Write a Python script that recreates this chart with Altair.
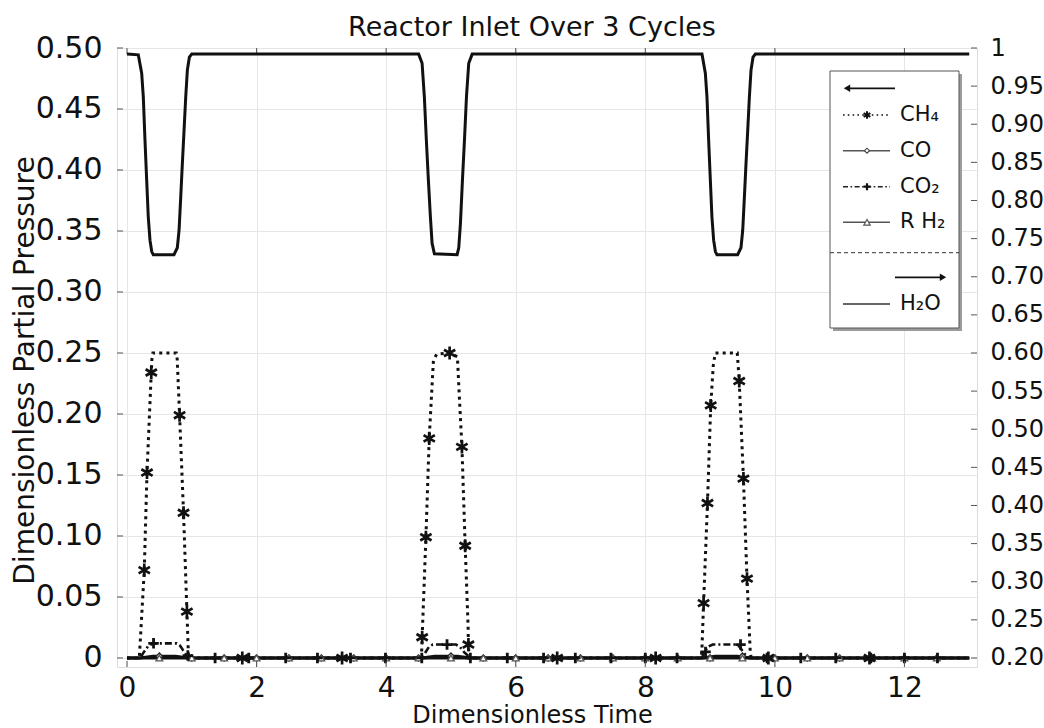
import altair as alt
import pandas as pd

# ---------------- data ----------------
# H2O (right axis)
h2o_t = [0.0, 0.175, 0.227, 0.252, 0.278, 0.304, 0.329, 0.355, 0.382, 0.406, 0.726, 0.777, 0.804, 0.830, 0.855,
         0.881, 0.907, 0.932, 0.963, 1.0,
         4.502, 4.555, 4.590, 4.621, 4.652, 4.683, 4.709, 4.745, 5.096, 5.121, 5.147, 5.178, 5.209, 5.240, 5.275, 5.328,
         8.875, 8.927, 8.952, 8.978, 9.004, 9.029, 9.055, 9.082, 9.106, 9.426, 9.477, 9.504, 9.530, 9.555,
         9.581, 9.607, 9.632, 9.663, 9.70, 13.0]
h2o_v = [0.992, 0.991, 0.967, 0.936, 0.879, 0.827, 0.778, 0.748, 0.733, 0.729, 0.729, 0.738, 0.761, 0.805, 0.849,
         0.892, 0.936, 0.971, 0.988, 0.992,
         0.992, 0.980, 0.936, 0.879, 0.827, 0.779, 0.744, 0.730, 0.729, 0.738, 0.770, 0.827, 0.879, 0.936, 0.980, 0.992,
         0.992, 0.967, 0.936, 0.879, 0.827, 0.778, 0.748, 0.733, 0.729, 0.729, 0.738, 0.761, 0.805, 0.849,
         0.892, 0.936, 0.971, 0.988, 0.992, 0.992]

# CH4 (left axis)
ch4_t = [0.0, 0.19, 0.215, 0.267, 0.309, 0.375, 0.385, 0.40, 0.76, 0.775, 0.812, 0.873, 0.925, 0.935, 0.95,
         4.545, 4.556, 4.614, 4.665, 4.73, 4.78, 4.98, 5.10, 5.13, 5.17, 5.22, 5.265, 5.27, 5.28,
         8.86, 8.873, 8.90, 8.96, 9.01, 9.05, 9.08, 9.42, 9.45, 9.515, 9.57, 9.62, 9.635, 13.0]
ch4_v = [0.0, 0.0, 0.023, 0.072, 0.152, 0.234, 0.245, 0.25, 0.25, 0.245, 0.199, 0.119, 0.038, 0.023, 0.0,
         0.0, 0.017, 0.099, 0.180, 0.244, 0.249, 0.25, 0.247, 0.214, 0.173, 0.092, 0.026, 0.011, 0.0,
         0.0, 0.005, 0.045, 0.127, 0.207, 0.240, 0.25, 0.25, 0.227, 0.147, 0.065, 0.005, 0.0, 0.0]
ch4_mt = [0.267, 0.309, 0.375, 0.812, 0.873, 0.925, 1.78, 3.32, 4.556, 4.614, 4.665, 4.98, 5.17, 5.22, 5.27,
          6.64, 8.16, 8.90, 8.96, 9.01, 9.45, 9.515, 9.57, 9.90, 11.46]
ch4_mv = [0.072, 0.152, 0.234, 0.199, 0.119, 0.038, 0.0, 0.0, 0.017, 0.099, 0.180, 0.25, 0.173, 0.092, 0.011,
          0.0, 0.0, 0.045, 0.127, 0.207, 0.227, 0.147, 0.065, 0.0, 0.0]

# CO2
co2_t = [0.0, 0.205, 0.25, 0.33, 0.41, 0.77, 0.82, 0.87, 0.92, 0.95,
         4.55, 4.60, 4.66, 4.72, 5.08, 5.14, 5.20, 5.26, 5.30,
         8.87, 8.91, 8.96, 9.04, 9.40, 9.46, 9.52, 9.58, 9.62, 13.0]
co2_v = [0.0, 0.0, 0.004, 0.010, 0.012, 0.012, 0.010, 0.006, 0.002, 0.0,
         0.0, 0.004, 0.009, 0.011, 0.011, 0.009, 0.005, 0.002, 0.0,
         0.0, 0.004, 0.009, 0.011, 0.011, 0.009, 0.004, 0.001, 0.0, 0.0]
co2_mt = [0.41, 0.94, 1.36, 1.88, 2.45, 2.94, 3.45, 3.99, 4.55, 4.94, 5.30, 5.87, 6.43, 6.92, 7.47, 8.0, 8.49,
          8.93, 9.47, 9.88, 10.40, 10.94, 11.48, 12.0, 12.51]
co2_mv = [0.012, 0.002, 0.0, 0.0, 0.0, 0.0, 0.0, 0.0, 0.0, 0.011, 0.0, 0.0, 0.0, 0.0, 0.0, 0.0, 0.0,
          0.005, 0.011, 0.0, 0.0, 0.0, 0.0, 0.0, 0.0]

# CO
co_t = [0.0, 0.2, 0.4, 0.75, 0.95, 4.55, 4.75, 5.1, 5.3, 8.87, 9.08, 9.42, 9.62, 13.0]
co_v = [0.0, 0.0, 0.0015, 0.0015, 0.0, 0.0, 0.0015, 0.0015, 0.0, 0.0, 0.0015, 0.0015, 0.0, 0.0]
co_mt = [0.5, 1.0, 1.5, 2.0, 2.5, 3.0, 3.5, 4.0, 4.5, 5.0, 5.5, 6.0, 6.5, 7.0, 7.5, 8.0, 8.5, 9.0, 9.5,
         10.0, 10.5, 11.0, 11.5, 12.0, 12.5]
co_mv = [0.0015, 0.0, 0.0, 0.0, 0.0, 0.0, 0.0, 0.0, 0.0, 0.0015, 0.0, 0.0, 0.0, 0.0, 0.0, 0.0, 0.0, 0.0, 0.0015,
         0.0, 0.0, 0.0, 0.0, 0.0, 0.0]

# R H2
rh2_t = [0.0, 13.0]
rh2_v = [0.0, 0.0]
rh2_mt = co_mt
rh2_mv = [0.0] * len(co_mt)

# axis ticks
x_ticks = [0, 2, 4, 6, 8, 10, 12]
left_ticks = [0, 0.05, 0.10, 0.15, 0.20, 0.25, 0.30, 0.35, 0.40, 0.45, 0.50]
right_ticks = [0.20, 0.25, 0.30, 0.35, 0.40, 0.45, 0.50, 0.55, 0.60, 0.65, 0.70, 0.75, 0.80, 0.85, 0.90, 0.95, 1.0]

legend_labels = ["CH\u2084", "CO", "CO\u2082", "R H\u2082", "H\u2082O"]
title_text = "Reactor Inlet Over 3 Cycles"
x_title = "Dimensionless Time"
y_title = "Dimensionless Partial Pressure"

# ---------------- chart ----------------
FONT = "DejaVu Sans"
W, H = 860, 619

def df(t, v):
    return pd.DataFrame({"t": t, "v": v})

xs = alt.Scale(domain=[-0.154, 13.12], nice=False, zero=False)
xaxis = alt.Axis(values=x_ticks, title=x_title, format="d", labelFontSize=28, labelPadding=7,
                 labelColor="#111", ticks=False, domain=False, grid=True, gridColor="#e3e7ea",
                 gridWidth=1, titleFontSize=24, titleFontWeight="normal", titleColor="#111",
                 titleX=415, titleY=48, titleBaseline="middle", titleAlign="center",
                 labelFont=FONT, titleFont=FONT)
X = alt.X("t:Q", scale=xs, axis=xaxis)

ls = alt.Scale(domain=[-0.0074, 0.5], nice=False, zero=False)
laxis = alt.Axis(values=left_ticks, labelExpr="datum.value == 0 ? '0' : format(datum.value, '.2f')",
                 title=y_title, labelFontSize=30, labelPadding=15, labelColor="#111", ticks=False,
                 domain=False, grid=True, gridColor="#e3e7ea", gridWidth=1, titleFontSize=28,
                 titleFontWeight="normal", titleColor="#111", titleX=-92, titleY=322, titleAngle=-90,
                 titleAlign="center", titleBaseline="middle", labelFont=FONT, titleFont=FONT)
YL = alt.Y("v:Q", scale=ls, axis=laxis)

rs = alt.Scale(domain=[0.18816, 1.0], nice=False, zero=False)
raxis = alt.Axis(orient="right", values=right_ticks,
                 labelExpr="datum.value == 1 ? '1' : format(datum.value, '.2f')",
                 title="", labelFontSize=24, labelPadding=13, labelColor="#111", ticks=False,
                 domain=False, grid=False, labelFont=FONT)
YR = alt.Y("v:Q", scale=rs, axis=raxis)

AST = "M0,-1L0,1M-0.866,-0.5L0.866,0.5M-0.866,0.5L0.866,-0.5"
PLUS = "M-1,0L1,0M0,-1L0,1"

co_line = alt.Chart(df(co_t, co_v)).mark_line(color="#111", strokeWidth=3).encode(x=X, y=YL)
rh2_line = alt.Chart(df(rh2_t, rh2_v)).mark_line(color="#111", strokeWidth=3).encode(x=X, y=YL)
co2_line = alt.Chart(df(co2_t, co2_v)).mark_line(color="#111", strokeWidth=2.6,
                                                  strokeDash=[7, 3, 2, 3]).encode(x=X, y=YL)
ch4_line = alt.Chart(df(ch4_t, ch4_v)).mark_line(color="#111", strokeWidth=3,
                                                  strokeDash=[3, 4.2]).encode(x=X, y=YL)

co_pts = alt.Chart(df(co_mt, co_mv)).mark_point(shape="diamond", filled=True, fill="white", stroke="#222",
                                                 strokeWidth=1.3, size=40, opacity=1).encode(x=X, y=YL)
rh2_pts = alt.Chart(df(rh2_mt, rh2_mv)).mark_point(shape="triangle-up", filled=True, fill="white",
                                                    stroke="#555", strokeWidth=1.3, size=45,
                                                    opacity=1).encode(x=X, y=YL)
co2_pts = alt.Chart(df(co2_mt, co2_mv)).mark_point(shape=PLUS, filled=False, color="#111", strokeWidth=2.8,
                                                    size=110, opacity=1).encode(x=X, y=YL)
ch4_pts = alt.Chart(df(ch4_mt, ch4_mv)).mark_point(shape=AST, filled=False, color="#111", strokeWidth=2.7,
                                                    size=170, opacity=1).encode(x=X, y=YL)

xt = pd.DataFrame({"t": x_ticks})
xtick_b = alt.Chart(xt).mark_rule(color="#555", strokeWidth=1).encode(x=X, y=alt.value(H), y2=alt.value(H - 6))
xtick_t = alt.Chart(xt).mark_rule(color="#555", strokeWidth=1).encode(x=X, y=alt.value(0), y2=alt.value(6))
lt = pd.DataFrame({"v": left_ticks})
ltick = alt.Chart(lt).mark_rule(color="#555", strokeWidth=1).encode(y=YL, x=alt.value(0), x2=alt.value(6))

left_group = alt.layer(co_line, rh2_line, co2_line, ch4_line, co_pts, rh2_pts, co2_pts, ch4_pts,
                       xtick_b, xtick_t, ltick)

h2o_line = alt.Chart(df(h2o_t, h2o_v)).mark_line(color="#111", strokeWidth=3).encode(x=X, y=YR)
rt = pd.DataFrame({"v": right_ticks})
rtick = alt.Chart(rt).mark_rule(color="#555", strokeWidth=1).encode(y=YR, x=alt.value(W - 6), x2=alt.value(W))
right_group = alt.layer(h2o_line, rtick)

# ---------------- custom legend ----------------
one = pd.DataFrame({"k": [0]})
BX0, BX1, BY0, BY1 = 713, 842, 23, 280
LX0, LX1, MX, TX = 726, 773, 750, 783
rows = [67, 102.7, 138.7, 174.3, 256]

def seg(x0, x1, y, **kw):
    return alt.Chart(one).mark_rule(**kw).encode(x=alt.value(x0), x2=alt.value(x1), y=alt.value(y))

def pt(x, y, **kw):
    return alt.Chart(one).mark_point(opacity=1, **kw).encode(x=alt.value(x), y=alt.value(y))

def txt(x, y, s):
    return alt.Chart(one).mark_text(text=s, font=FONT, fontSize=21, align="left", baseline="middle",
                                    color="#111").encode(x=alt.value(x), y=alt.value(y))

leg = [
    alt.Chart(one).mark_rect(fill="#9c9c9c").encode(x=alt.value(BX0 + 3), x2=alt.value(BX1 + 3),
                                                     y=alt.value(BY0 + 3), y2=alt.value(BY1 + 3)),
    alt.Chart(one).mark_rect(fill="white", stroke="#555", strokeWidth=1).encode(
        x=alt.value(BX0), x2=alt.value(BX1), y=alt.value(BY0), y2=alt.value(BY1)),
    seg(733, 778, 40.3, color="#111", strokeWidth=1.8),
    pt(730, 40.3, shape="triangle-left", filled=True, color="#111", size=55),
    seg(LX0, LX1, rows[0], color="#111", strokeWidth=1.6, strokeDash=[1.6, 3.2]),
    pt(MX, rows[0], shape=AST, filled=False, color="#111", strokeWidth=2, size=60),
    txt(TX, rows[0], legend_labels[0]),
    seg(LX0, LX1, rows[1], color="#555", strokeWidth=1.5),
    pt(MX, rows[1], shape="diamond", filled=True, fill="white", stroke="#444", strokeWidth=1.1, size=25),
    txt(TX, rows[1], legend_labels[1]),
    seg(LX0, LX1, rows[2], color="#222", strokeWidth=1.6, strokeDash=[5, 2.5, 1.6, 2.5]),
    pt(MX, rows[2], shape=PLUS, filled=False, color="#111", strokeWidth=2.2, size=50),
    txt(TX, rows[2], legend_labels[2]),
    seg(LX0, LX1, rows[3], color="#555", strokeWidth=1.5),
    pt(MX, rows[3], shape="triangle-up", filled=True, fill="white", stroke="#555", strokeWidth=1.2, size=40),
    txt(TX, rows[3], legend_labels[3]),
    seg(BX0, BX1, 204.7, color="#333", strokeWidth=1, strokeDash=[4, 3]),
    seg(778, 823, 229.3, color="#111", strokeWidth=1.8),
    pt(826, 229.3, shape="triangle-right", filled=True, color="#111", size=55),
    seg(LX0, LX1, rows[4], color="#333", strokeWidth=1.5),
    txt(TX, rows[4], legend_labels[4]),
]
legend_group = alt.layer(*leg)

chart = alt.layer(left_group, right_group, legend_group).resolve_scale(y="independent").properties(
    width=W, height=H,
    title=alt.TitleParams(title_text, fontSize=27, fontWeight="normal", font=FONT, color="#111",
                          anchor="middle", offset=10, dx=-15, dy=19),
    autosize=alt.AutoSizeParams(type="none"),
    padding={"left": 117, "top": 48, "right": 67, "bottom": 61},
).configure_view(stroke="#6a6a6a", strokeWidth=1.5).configure(background="white")

chart.save("out.html", embed_options={"renderer": "svg", "actions": False})
